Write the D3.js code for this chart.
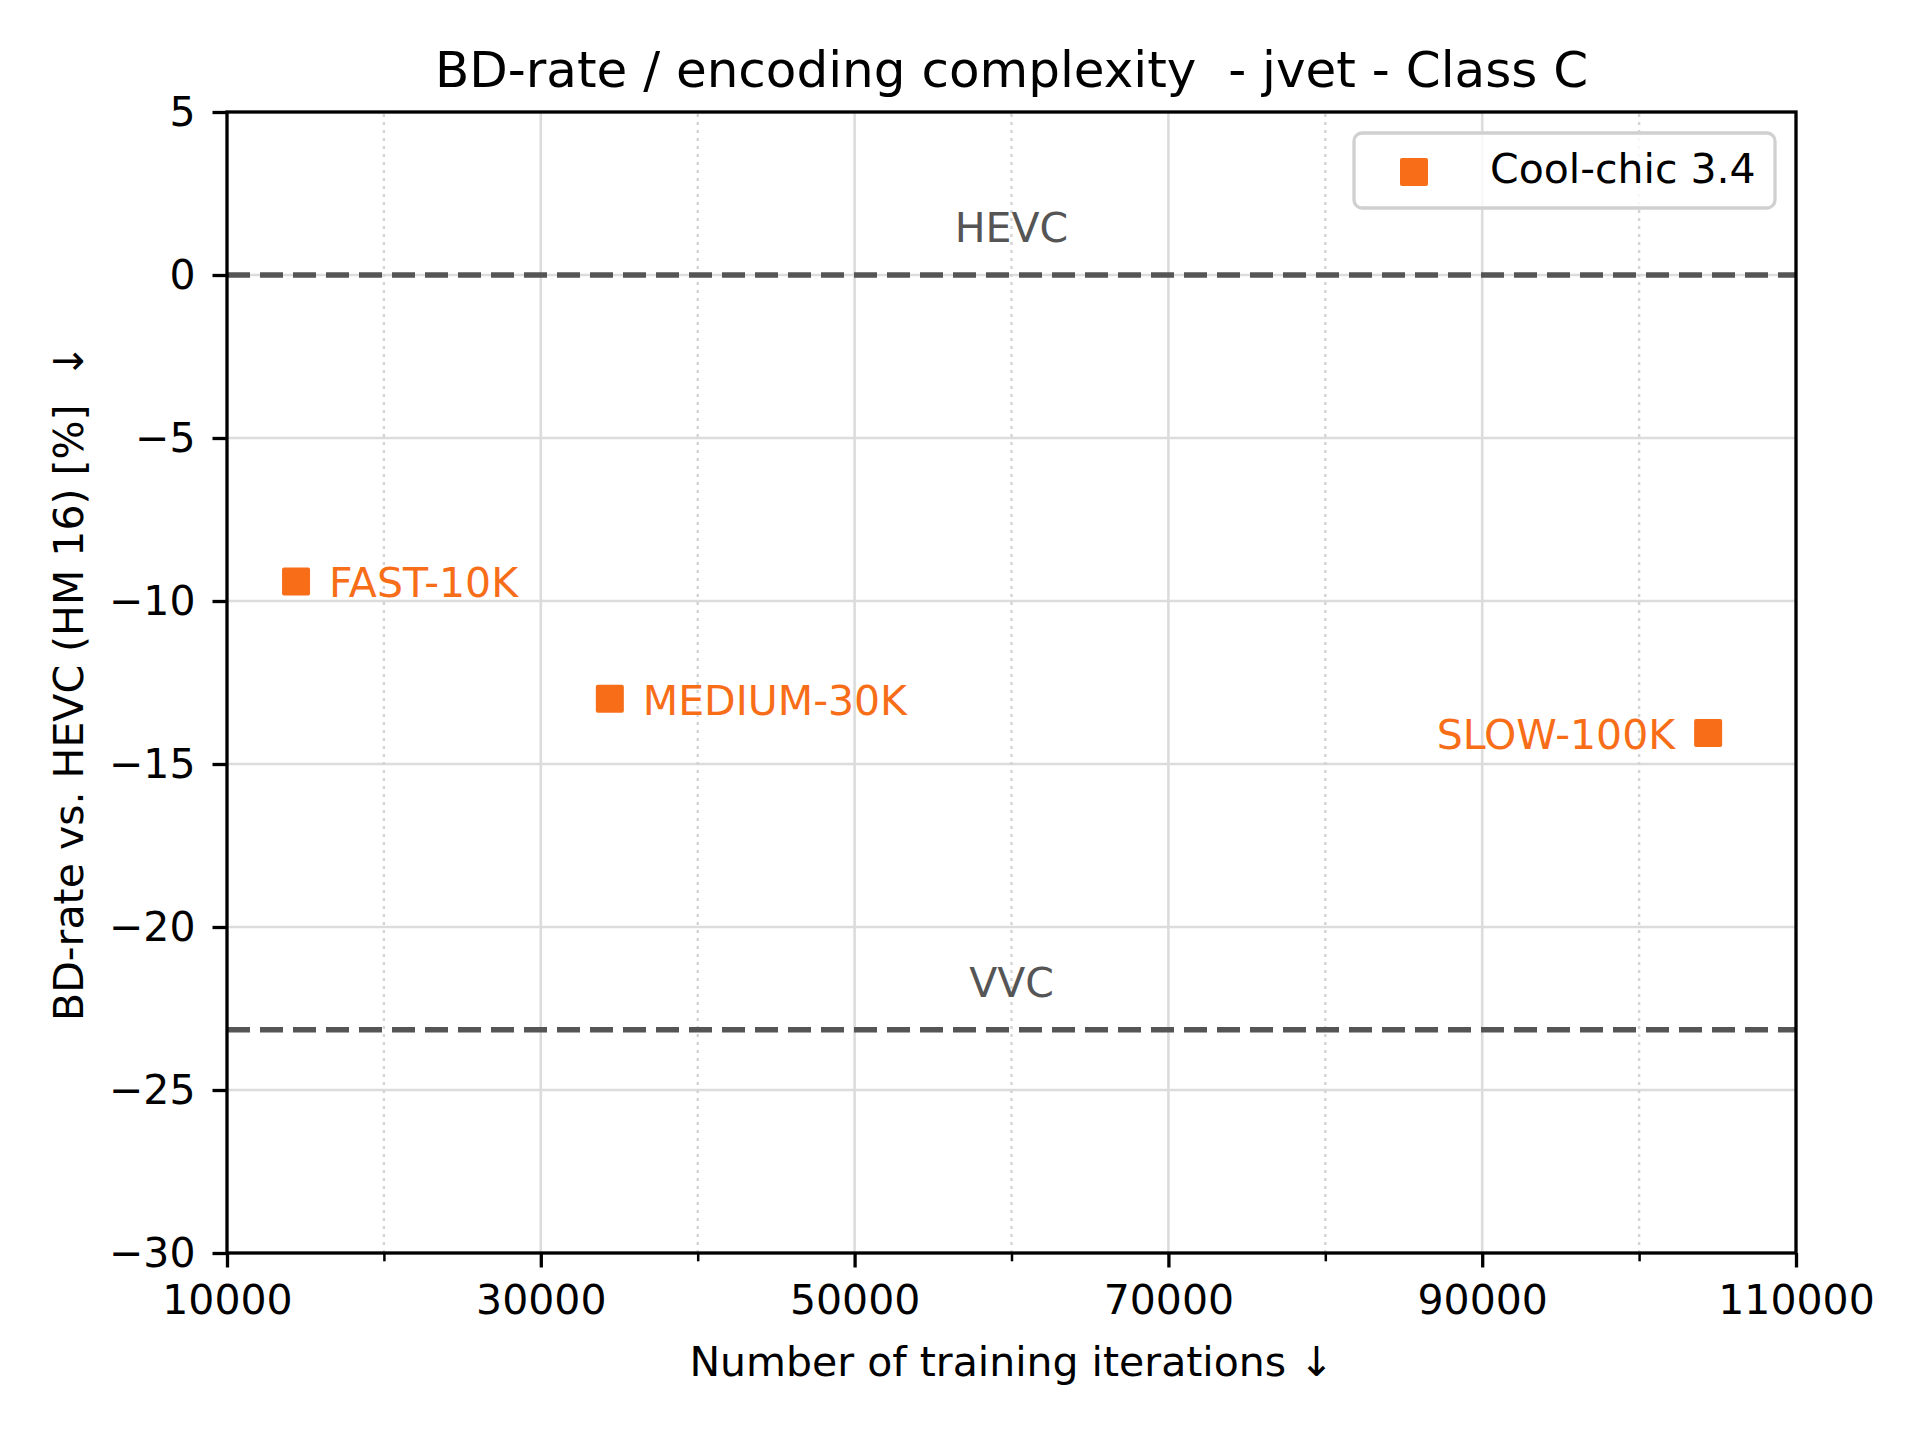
<!DOCTYPE html>
<html>
<head>
<meta charset="utf-8">
<script src="https://d3js.org/d3.v7.min.js"></script>
<title>BD-rate / encoding complexity</title>
<style>
  body { margin: 0; background: #fff; }
  text { font-family: "DejaVu Sans", sans-serif; }
</style>
</head>
<body>
<div id="chart"></div>
<script>
// data
var presets = ["FAST-10K", "MEDIUM-30K", "SLOW-100K"];
var iterations = [14400, 34400, 104400];
var bdRate = [-9.4, -13.0, -14.05];
var labelSide = ["right", "right", "left"];

var refNames = ["HEVC", "VVC"];
var refValues = [0, -23.15];

var xMajor = [10000, 30000, 50000, 70000, 90000, 110000];
var xMinor = [20000, 40000, 60000, 80000, 100000];
var yTicks = [-30, -25, -20, -15, -10, -5, 0, 5];

var width = 1920, height = 1440;
var margin = {top: 112, right: 124, bottom: 187, left: 227};
var orange = "#f76d18";
var fs = 41;

var svg = d3.select("#chart").append("svg")
    .attr("width", width)
    .attr("height", height);

var x = d3.scaleLinear().domain([10000, 110000]).range([margin.left, width - margin.right]);
var y = d3.scaleLinear().domain([-30, 5]).range([height - margin.bottom, margin.top]);

// grid
var grid = svg.append("g");
grid.selectAll(".ymaj").data(yTicks).enter().append("line")
    .attr("x1", x.range()[0]).attr("x2", x.range()[1])
    .attr("y1", d => y(d)).attr("y2", d => y(d))
    .attr("stroke", "#dcdcdc").attr("stroke-width", 2.6);
grid.selectAll(".xmaj").data(xMajor).enter().append("line")
    .attr("x1", d => x(d)).attr("x2", d => x(d))
    .attr("y1", y.range()[0]).attr("y2", y.range()[1])
    .attr("stroke", "#dcdcdc").attr("stroke-width", 2.6);
grid.selectAll(".xmin").data(xMinor).enter().append("line")
    .attr("x1", d => x(d)).attr("x2", d => x(d))
    .attr("y1", y.range()[0]).attr("y2", y.range()[1])
    .attr("stroke", "#d4d4d4").attr("stroke-width", 2.4)
    .attr("stroke-dasharray", "3,5");

// reference codecs
svg.selectAll(".ref").data(refValues).enter().append("line")
    .attr("x1", x.range()[0]).attr("x2", x.range()[1])
    .attr("y1", d => y(d)).attr("y2", d => y(d))
    .attr("stroke", "#555").attr("stroke-width", 5.5)
    .attr("stroke-dasharray", "23,10");
svg.selectAll(".refLabel").data(refNames).enter().append("text")
    .attr("x", x(60000))
    .attr("y", (d, i) => y(refValues[i]) - 33)
    .attr("text-anchor", "middle")
    .attr("font-size", fs)
    .attr("fill", "#555")
    .text(d => d);

// points
var ms = 28;
svg.selectAll(".pt").data(presets).enter().append("rect")
    .attr("x", (d, i) => x(iterations[i]) - ms / 2)
    .attr("y", (d, i) => y(bdRate[i]) - ms / 2)
    .attr("width", ms).attr("height", ms)
    .attr("rx", 2)
    .attr("fill", orange);
svg.selectAll(".ptLabel").data(presets).enter().append("text")
    .attr("x", (d, i) => x(iterations[i]) + (labelSide[i] == "right" ? 33 : -33))
    .attr("y", (d, i) => y(bdRate[i]) + 16)
    .attr("text-anchor", (d, i) => labelSide[i] == "right" ? "start" : "end")
    .attr("font-size", fs)
    .attr("fill", orange)
    .text(d => d);

// axes
var xAxis = svg.append("g")
    .attr("transform", "translate(0," + y.range()[0] + ")")
    .call(d3.axisBottom(x).tickValues(xMajor).tickFormat(d3.format("d")).tickSize(14.5).tickPadding(17));
svg.append("g")
    .attr("transform", "translate(0," + y.range()[0] + ")")
    .call(d3.axisBottom(x).tickValues(xMinor).tickFormat("").tickSize(8.3))
    .call(g => g.select(".domain").remove())
    .selectAll("line").attr("stroke-width", 2.5);
var yAxis = svg.append("g")
    .attr("transform", "translate(" + x.range()[0] + ",0)")
    .call(d3.axisLeft(y).tickValues(yTicks).tickFormat(d => d < 0 ? "\u2212" + Math.abs(d) : d).tickSize(14.5).tickPadding(17));
[xAxis, yAxis].forEach(function(g) {
  g.selectAll("text").attr("font-size", fs).attr("fill", "#000").attr("font-family", "DejaVu Sans");
  g.selectAll("line").attr("stroke-width", 3.3);
  g.select(".domain").remove();
});
xAxis.selectAll("text").attr("dy", "0.71em");

// frame
svg.append("rect")
    .attr("x", x.range()[0]).attr("y", y.range()[1])
    .attr("width", x.range()[1] - x.range()[0])
    .attr("height", y.range()[0] - y.range()[1])
    .attr("fill", "none").attr("stroke", "#000").attr("stroke-width", 3.3);

// legend
var lg = svg.append("g");
lg.append("rect")
    .attr("x", 1354).attr("y", 133).attr("width", 421).attr("height", 75)
    .attr("rx", 8)
    .attr("fill", "#fff").attr("fill-opacity", 0.8)
    .attr("stroke", "#d0d0d0").attr("stroke-width", 3.3);
lg.append("rect")
    .attr("x", 1414 - ms / 2).attr("y", 172 - ms / 2)
    .attr("width", ms).attr("height", ms).attr("rx", 2)
    .attr("fill", orange);
lg.append("text")
    .attr("x", 1490).attr("y", 183)
    .attr("font-size", fs)
    .text("Cool-chic 3.4");

// titles
svg.append("text")
    .attr("x", x(60000)).attr("y", 87)
    .attr("text-anchor", "middle")
    .attr("font-size", 50)
    .style("white-space", "pre")
    .text("BD-rate / encoding complexity  - jvet - Class C");
svg.append("text")
    .attr("x", x(60000)).attr("y", 1376)
    .attr("text-anchor", "middle")
    .attr("font-size", fs)
    .text("Number of training iterations \u2193");
svg.append("text")
    .attr("transform", "translate(83," + (y(-12.5)) + ") rotate(-90)")
    .attr("text-anchor", "middle")
    .attr("font-size", fs)
    .style("white-space", "pre")
    .text("BD-rate vs. HEVC (HM 16) [%]  \u2193");
</script>
</body>
</html>
